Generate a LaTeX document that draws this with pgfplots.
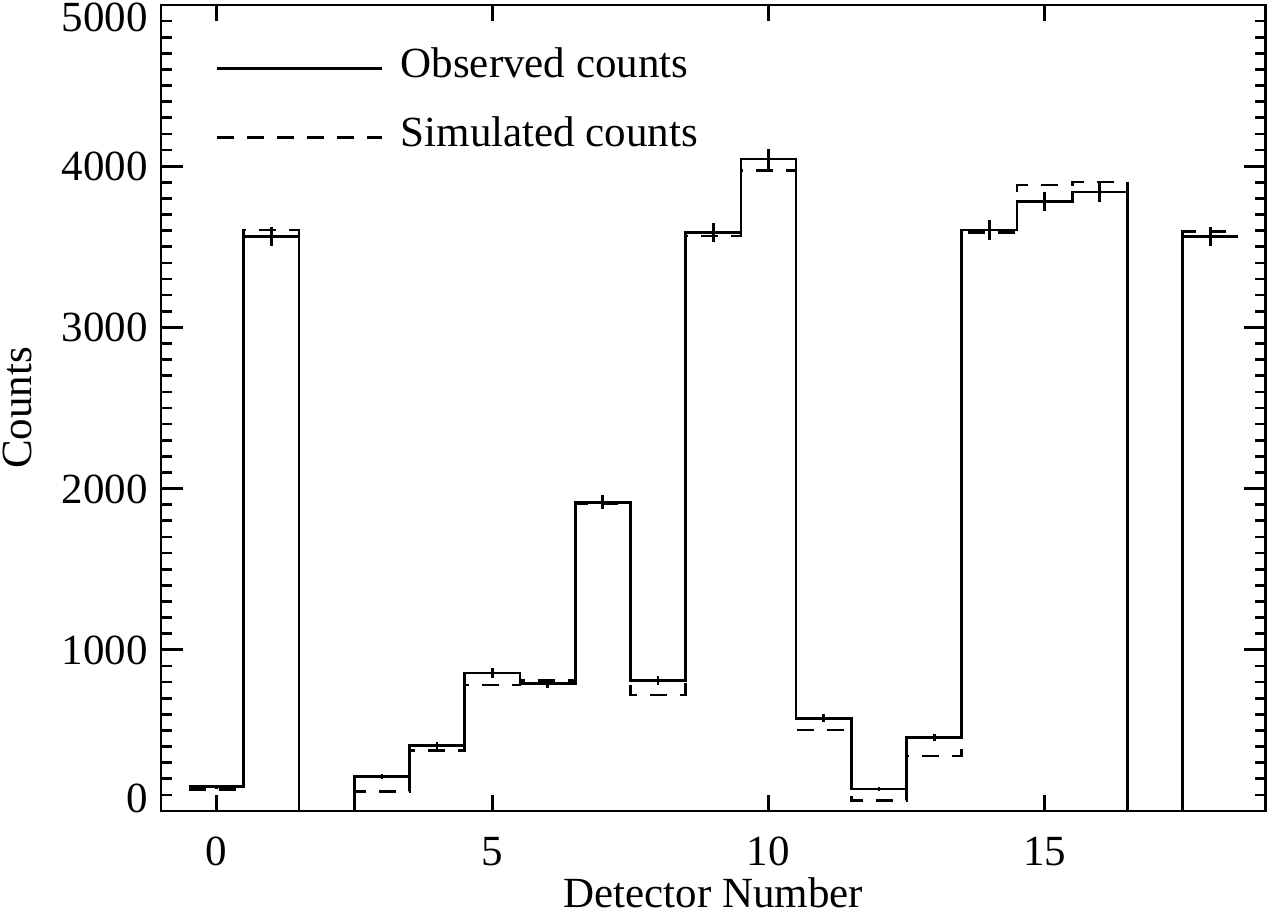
\documentclass[border=0pt]{standalone}
\usepackage{fontspec}
\setmainfont{Liberation Serif}
\usepackage{pgfplots}
\pgfplotsset{compat=1.18}
\begin{document}
\fontsize{21.5pt}{26pt}\selectfont
\begin{tikzpicture}
\begin{axis}[
  scale only axis, width=552.25pt, height=403pt,
  xmin=-1, xmax=19, ymin=0, ymax=5000,
  axis line style={line width=1.35pt},
  tick style={line width=1.35pt, black},
  major tick length=10.8pt, minor tick length=4pt,
  xtick=\empty, minor xtick={-1,0,...,19},
  extra x ticks={0,5,10,15}, extra x tick labels={0,5,10,15},
  extra x tick style={major tick length=8pt},
  ytick={0,1000,2000,3000,4000,5000},
  yticklabels={\raisebox{6.5pt}{0},1000,2000,3000,4000,\raisebox{-6pt}{5000}},
  extra y ticks={100,200,...,4900}, extra y tick labels={},
  extra y tick style={major tick length=5.3pt},
  xticklabel style={anchor=north, inner sep=0pt, yshift=-13pt},
  yticklabel style={anchor=base east, inner sep=0pt, xshift=-6.5pt, yshift=-7.27pt},
  xlabel={Detector Number}, ylabel={Counts},
  xlabel style={at={([yshift=-48.3pt]axis description cs:0.5,0)}, anchor=base, inner sep=0pt},
  ylabel style={at={([xshift=-64.5pt]axis description cs:0,0.5)}, anchor=base, inner sep=0pt},
  legend style={draw=none, fill=none, at={(axis description cs:0,1)}, anchor=north west,
    xshift=27.5pt, yshift=-21.2pt, inner sep=0pt, outer sep=0pt,
    row sep=16.5pt, column sep=8.5pt, cells={anchor=base west}, nodes={inner sep=0pt}},
  legend image code/.code={\draw[#1] (0pt,4.5pt) -- (82.5pt,4.5pt);},
]
% observed counts (bin edges, value of the bin that starts there)
\addplot[const plot mark left, line width=1.35pt, black] coordinates {
(-0.5,150) (0.5,3565) (1.5,0) (2.5,213) (3.5,405) (4.5,856) (5.5,790)
(6.5,1915) (7.5,811) (8.5,3590) (9.5,4045) (10.5,575) (11.5,136)
(12.5,455) (13.5,3604) (14.5,3780) (15.5,3840) (16.5,0) (17.5,3562) (18.5,3562)};
\addlegendentry{Observed counts}
% simulated counts
\addplot[const plot mark left, line width=1.35pt, black, dash pattern=on 8.5pt off 6.5pt] coordinates {
(-0.5,135) (0.5,3604) (1.5,0) (2.5,120) (3.5,374) (4.5,782) (5.5,811)
(6.5,1905) (7.5,720) (8.5,3567) (9.5,3972) (10.5,502) (11.5,64)
(12.5,341) (13.5,3590) (14.5,3883) (15.5,3902) (16.5,0) (17.5,3594) (18.5,3594)};
\addlegendentry{Simulated counts}
% error bars on observed counts
\addplot[draw=none, forget plot, error bars/.cd, y dir=both, y explicit, error mark=none,
  error bar style={draw=black, line width=1.35pt, solid}] coordinates {
(0,150) +- (0,12) (1,3565) +- (0,60) (3,213) +- (0,15) (4,405) +- (0,20)
(5,856) +- (0,29) (6,790) +- (0,28) (7,1915) +- (0,44) (8,811) +- (0,28)
(9,3590) +- (0,60) (10,4045) +- (0,64) (11,575) +- (0,24) (12,136) +- (0,12)
(13,455) +- (0,21) (14,3604) +- (0,60) (15,3780) +- (0,61) (16,3840) +- (0,62)
(18,3562) +- (0,60)};
\end{axis}
\pgfresetboundingbox
\path ([xshift=-80.5pt, yshift=-51pt]current axis.south west) rectangle ([xshift=0.75pt, yshift=2.5pt]current axis.north east);
\end{tikzpicture}
\end{document}
